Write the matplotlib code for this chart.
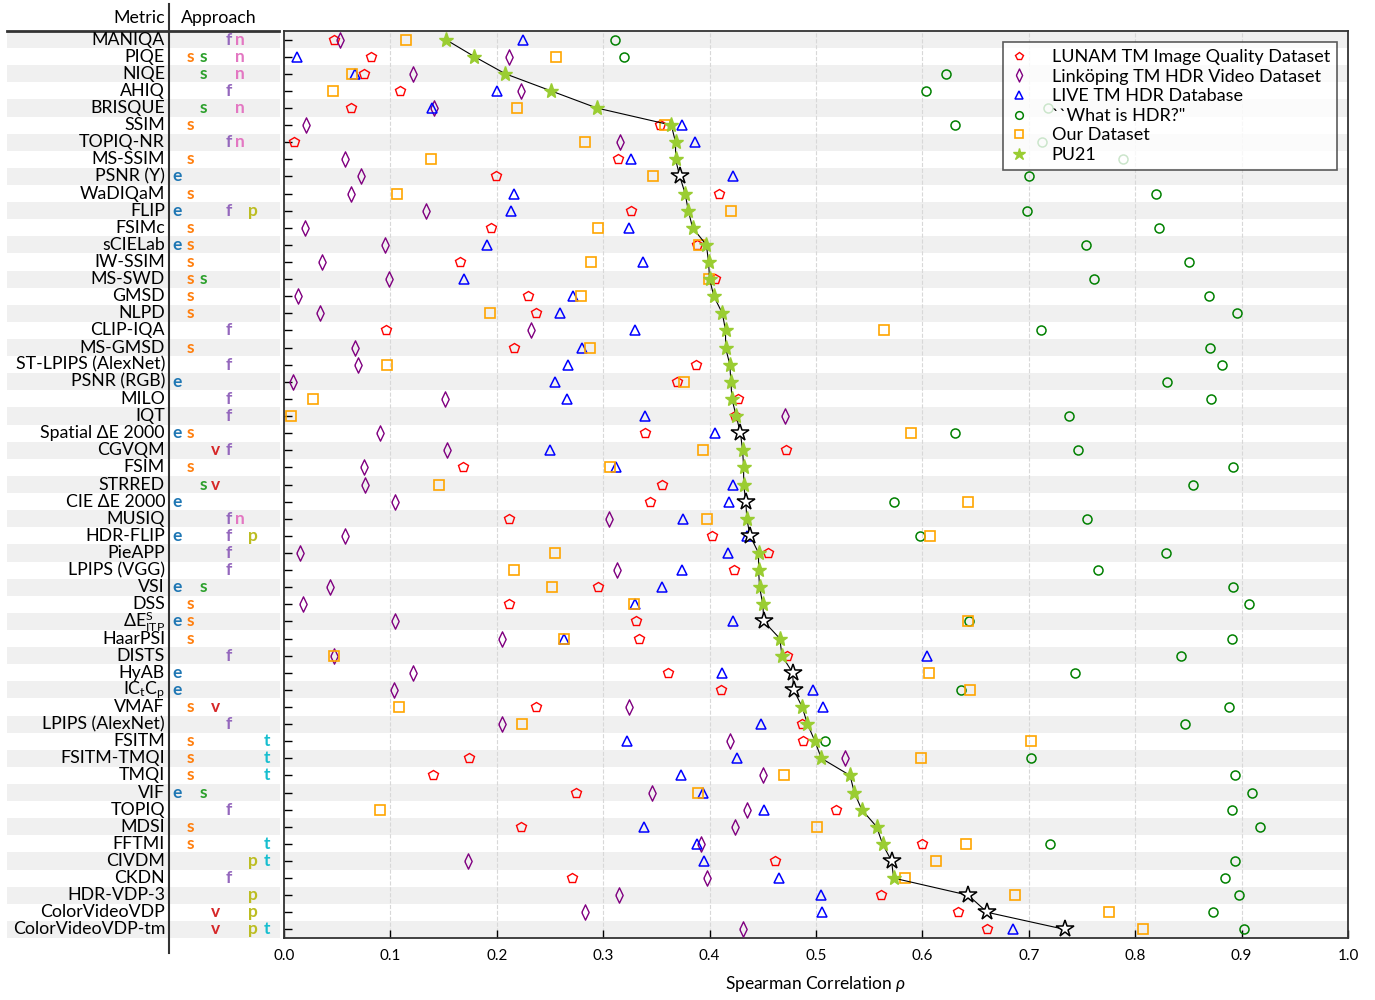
import matplotlib
matplotlib.use("Agg")
import matplotlib.pyplot as plt
import numpy as np

plt.rcParams['font.family'] = ['Lato', 'DejaVu Sans']
plt.rcParams['mathtext.fontset'] = 'custom'
plt.rcParams['mathtext.rm'] = 'Lato'
plt.rcParams['mathtext.it'] = 'Lato:italic'

# ---- data ----
metrics = [
    "MANIQA", "PIQE", "NIQE", "AHIQ", "BRISQUE", "SSIM", "TOPIQ-NR", "MS-SSIM",
    "PSNR (Y)", "WaDIQaM", "FLIP", "FSIMc", "sCIELab", "IW-SSIM", "MS-SWD", "GMSD",
    "NLPD", "CLIP-IQA", "MS-GMSD", "ST-LPIPS (AlexNet)", "PSNR (RGB)", "MILO", "IQT",
    "Spatial \u0394E 2000", "CGVQM", "FSIM", "STRRED", "CIE \u0394E 2000", "MUSIQ",
    "HDR-FLIP", "PieAPP", "LPIPS (VGG)", "VSI", "DSS", r"$\Delta$E$^{\rm S}_{\rm ITP}$",
    "HaarPSI", "DISTS", "HyAB", r"IC$_{\rm t}$C$_{\rm p}$", "VMAF", "LPIPS (AlexNet)",
    "FSITM", "FSITM-TMQI", "TMQI", "VIF", "TOPIQ", "MDSI", "FFTMI", "CIVDM", "CKDN",
    "HDR-VDP-3", "ColorVideoVDP", "ColorVideoVDP-tm",
]

# approach codes: e, s (orange), g (green s), v, f, n, p, t
approach = [
    "fn", "sgn", "gn", "f", "gn", "s", "fn", "s", "e", "s", "efp", "s", "es", "s",
    "sg", "s", "s", "f", "s", "f", "e", "f", "f", "es", "vf", "s", "gv", "e", "fn",
    "efp", "f", "f", "eg", "s", "es", "s", "f", "e", "e", "sv", "f", "st", "st",
    "st", "eg", "f", "s", "st", "pt", "f", "p", "vp", "vpt",
]

lunam = [0.047, 0.082, 0.075, 0.109, 0.063, 0.353, 0.009, 0.314, 0.199, 0.409,
         0.326, 0.195, 0.388, 0.165, 0.405, 0.229, 0.237, 0.096, 0.216, 0.387,
         0.369, 0.427, 0.424, 0.339, 0.472, 0.168, 0.355, 0.344, 0.211, 0.402,
         0.455, 0.423, 0.295, 0.211, 0.331, 0.334, 0.473, 0.361, 0.411, 0.237,
         0.487, 0.488, 0.174, 0.140, 0.274, 0.519, 0.223, 0.600, 0.461, 0.271,
         0.561, 0.633, 0.661]
linkoping = [0.053, 0.211, 0.121, 0.223, 0.141, 0.021, 0.316, 0.057, 0.072, 0.063,
             0.133, 0.020, 0.095, 0.036, 0.099, 0.013, 0.034, 0.232, 0.067, 0.070,
             0.008, 0.151, 0.471, 0.090, 0.153, 0.075, 0.076, 0.104, 0.305, 0.057,
             0.015, 0.313, 0.043, 0.018, 0.104, 0.205, 0.047, 0.121, 0.103, 0.324,
             0.205, 0.419, 0.527, 0.450, 0.346, 0.435, 0.424, 0.392, 0.173, 0.398,
             0.315, 0.283, 0.431]
live = [0.225, 0.012, 0.067, 0.200, 0.139, 0.374, 0.386, 0.326, 0.422, 0.216,
        0.213, 0.324, 0.191, 0.337, 0.169, 0.272, 0.259, 0.330, 0.280, 0.267,
        0.255, 0.266, 0.339, 0.405, 0.250, 0.312, 0.422, 0.418, 0.375, 0.435,
        0.417, 0.374, 0.355, 0.330, 0.422, 0.263, 0.604, 0.412, 0.497, 0.507,
        0.448, 0.322, 0.426, 0.373, 0.394, 0.451, 0.338, 0.388, 0.395, 0.465,
        0.505, 0.506, 0.685]
what_is_hdr = [0.311, 0.320, 0.622, 0.603, 0.718, 0.631, 0.712, 0.789, 0.700, 0.820,
               0.698, 0.822, 0.754, 0.851, 0.761, 0.869, 0.896, 0.711, 0.870, 0.882,
               0.830, 0.871, 0.738, 0.631, 0.746, 0.892, 0.854, 0.573, 0.755, 0.598,
               0.829, 0.765, 0.892, 0.907, 0.644, 0.891, 0.843, 0.743, 0.636, 0.888,
               0.847, 0.508, 0.702, 0.894, 0.910, 0.891, 0.917, 0.720, 0.894, 0.884,
               0.898, 0.873, 0.902]
ours = [0.115, 0.256, 0.064, 0.046, 0.219, 0.358, 0.283, 0.138, 0.347, 0.106,
        0.420, 0.295, 0.390, 0.289, 0.399, 0.279, 0.194, 0.564, 0.288, 0.097,
        0.376, 0.027, 0.007, 0.589, 0.394, 0.306, 0.146, 0.643, 0.398, 0.607,
        0.255, 0.216, 0.252, 0.329, 0.643, 0.263, 0.047, 0.606, 0.645, 0.108,
        0.224, 0.702, 0.599, 0.470, 0.389, 0.090, 0.501, 0.641, 0.613, 0.584,
        0.687, 0.775, 0.807]
pu21 = [0.152, 0.179, 0.208, 0.251, 0.294, 0.364, 0.368, 0.368, 0.372, 0.377,
        0.380, 0.384, 0.397, 0.399, 0.400, 0.404, 0.412, 0.415, 0.415, 0.419,
        0.420, 0.421, 0.425, 0.429, 0.431, 0.432, 0.432, 0.434, 0.435, 0.438,
        0.446, 0.446, 0.447, 0.450, 0.451, 0.466, 0.468, 0.478, 0.479, 0.487,
        0.492, 0.499, 0.505, 0.532, 0.536, 0.543, 0.557, 0.5625, 0.571, 0.573,
        0.643, 0.661, 0.734]
# metrics shown with an open black star (no PU21 encoding)
no_pu = ["PSNR (Y)", "Spatial \u0394E 2000", "CIE \u0394E 2000", "HDR-FLIP",
         r"$\Delta$E$^{\rm S}_{\rm ITP}$", "HyAB", r"IC$_{\rm t}$C$_{\rm p}$",
         "CIVDM", "HDR-VDP-3", "ColorVideoVDP", "ColorVideoVDP-tm"]

# letter, colour, x position (px) of the approach codes
code_style = {
    "e": ("e", "#1f77b4", 177), "s": ("s", "#ff7f0e", 190), "g": ("s", "#2ca02c", 203),
    "v": ("v", "#d62728", 215.5), "f": ("f", "#9467bd", 229), "n": ("n", "#e377c2", 240),
    "p": ("p", "#bcbd22", 253), "t": ("t", "#17becf", 267),
}

n = len(metrics)
rows = np.arange(n)

fig = plt.figure(figsize=(13.75, 10), dpi=100)
ax = fig.add_axes([284 / 1375, 62 / 1000, 1064 / 1375, 907 / 1000])
tab = fig.add_axes([7 / 1375, 62 / 1000, 273 / 1375, 907 / 1000], sharey=ax)

for i in range(0, n, 2):
    ax.axhspan(i - 0.5, i + 0.5, color="#f0f0f0", lw=0, zorder=0)
    tab.axhspan(i - 0.5, i + 0.5, color="#f0f0f0", lw=0, zorder=0)

thin_diamond = [(-0.48, 0), (0, 1), (0.48, 0), (0, -1), (-0.48, 0)]

ax.plot(lunam, rows, ls="none", marker="p", ms=7, mfc="none", mec="red", mew=1,
        label="LUNAM TM Image Quality Dataset", zorder=3)
ax.plot(linkoping, rows, ls="none", marker=thin_diamond, ms=11, mfc="none",
        mec="purple", mew=1, label="Linköping TM HDR Video Dataset", zorder=3)
ax.plot(live, rows, ls="none", marker="^", ms=7, mfc="none", mec="blue", mew=1.1,
        label="LIVE TM HDR Database", zorder=3)
ax.plot(what_is_hdr, rows, ls="none", marker="o", ms=6.5, mfc="none", mec="green",
        mew=1.1, label='``What is HDR?"', zorder=3)
ax.plot(ours, rows, ls="none", marker="s", ms=6.5, mfc="none", mec="orange", mew=1.2,
        label="Our Dataset", zorder=3)

ax.plot(pu21, rows, color="black", lw=0.8, zorder=4)
plain = np.array([m in no_pu for m in metrics])
pu = np.array(pu21)
ax.plot(pu[~plain], rows[~plain], ls="none", marker="*", ms=11, color="yellowgreen",
        mec="yellowgreen", label="PU21", zorder=5)
ax.plot(pu[plain], rows[plain], ls="none", marker="*", ms=13, mfc="white",
        mec="black", mew=1.1, zorder=5)

ax.set_xlim(0, 1)
ax.set_ylim(n - 0.5, -0.5)
ax.set_xticks(np.arange(0, 1.01, 0.1))
ax.set_xticklabels([f"{v:.1f}" for v in np.arange(0, 1.01, 0.1)], fontsize=11)
ax.set_yticks(rows)
ax.tick_params(axis="y", labelleft=False, direction="in", length=6, width=1)
ax.tick_params(axis="x", direction="in", length=6, width=1, pad=8)
ax.grid(axis="x", color="#d8d8d8", ls="--", lw=0.8)
ax.set_axisbelow(True)
for s in ax.spines.values():
    s.set_color("#333333")
    s.set_linewidth(1.3)
ax.set_xlabel(r"Spearman Correlation $\rho$", fontsize=12.5, labelpad=8)

leg = ax.legend(loc="upper right", fontsize=13, frameon=True, fancybox=False,
                framealpha=0.8, edgecolor="#333333", handlelength=1.0,
                handletextpad=1.3, labelspacing=0.2, borderpad=0.4,
                borderaxespad=0.6, markerscale=0.85)
leg.get_frame().set_linewidth(1.2)

# ---- left table ----
tab.set_xlim(7, 280)
tab.axis("off")
for i, (m, a) in enumerate(zip(metrics, approach)):
    tab.text(165, i, m, ha="right", va="center", fontsize=12.8)
    for c in a:
        letter, col, x = code_style[c]
        tab.text(x, i, letter, ha="center", va="center", fontsize=12.5,
                 fontweight="bold", color=col)
tab.text(165, -1.25, "Metric", ha="right", va="center", fontsize=12.8, clip_on=False)
tab.text(219, -1.25, "Approach", ha="center", va="center", fontsize=12.8, clip_on=False)
tab.plot([169, 169], [-2.05, n + 0.4], color="#333333", lw=1.5, clip_on=False)
tab.plot([7, 279], [-0.5, -0.5], color="#333333", lw=2, clip_on=False)

fig.savefig("out.png", dpi=100, facecolor="white")
